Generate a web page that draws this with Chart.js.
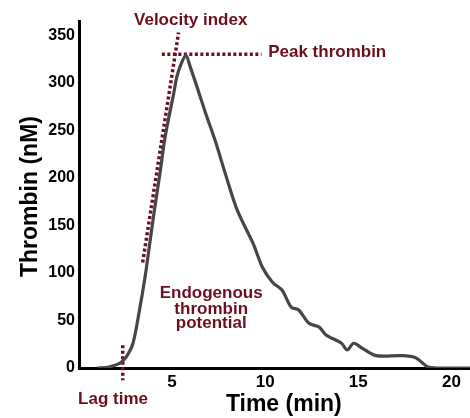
<!DOCTYPE html>
<html>
<head>
<meta charset="utf-8">
<script src="https://cdn.jsdelivr.net/npm/chart.js@4"></script>
<style>
  html, body { margin: 0; padding: 0; background: #fff; }
  #wrap { width: 470px; height: 418px; }
</style>
</head>
<body>
<div id="wrap"><canvas id="tg"></canvas></div>
<script>
// ── Thrombin generation curve ──
// Time (min) vs thrombin (nM), with the usual TG parameters marked.

const TIME     = [1.0, 1.6, 2.2, 2.55, 2.9, 3.25, 3.55, 3.8, 4.05, 4.35, 4.6, 4.85, 5.07, 5.25, 5.47, 5.74,
                  5.97, 6.4, 6.8, 7.3, 7.85, 8.5, 9.35, 9.85, 10.4, 10.9, 11.4, 11.8, 12.35, 12.9, 13.25,
                  14.1, 14.4, 14.75, 15.2, 15.95, 17.3, 18.05, 18.75, 19.3, 21];
const THROMBIN = [0, 1, 5, 12, 26, 61, 96, 131, 166, 205, 240, 266, 287, 306, 319, 329,
                  317, 292, 268, 240, 205, 166, 131, 106, 90, 82, 64, 61, 47, 43, 35,
                  26, 19, 26, 21, 13, 13, 11, 1, 0, 0];

// Marker lines (time, thrombin)
const VELOCITY_LINE = [[3.42, 111], [5.35, 353]];
const PEAK_LINE     = [[4.45, 330], [9.8, 330]];
const LAG_LINE      = [[2.35, 24], [2.35, -13]];

const X_TICKS = [5, 10, 15, 20];
const Y_TICKS = [0, 50, 100, 150, 200, 250, 300, 350];

const MAROON = '#6b0f1f';
const FONT   = '"Liberation Sans", Arial, sans-serif';

const toPts = arr => arr.map(([x, y]) => ({ x, y }));

const markerSet = (pts) => ({
  data: toPts(pts),
  borderColor: MAROON,
  borderWidth: 3.5,
  borderDash: [3, 2.5],
  borderCapStyle: 'butt',
  pointRadius: 0,
  fill: false,
  clip: false
});

// Annotation labels, placed in data coordinates
const LABELS = [
  { text: 'Velocity index', x: 6.0,  y: 366, align: 'center' },
  { text: 'Peak thrombin',  x: 10.16, y: 332, align: 'left' },
  { text: 'Endogenous',     x: 7.1,  y: 79,  align: 'center' },
  { text: 'thrombin',       x: 7.1,  y: 62,  align: 'center' },
  { text: 'potential',      x: 7.1,  y: 47,  align: 'center' },
  { text: 'Lag time',       x: 1.83, y: -33, align: 'center' }
];

const textPlugin = {
  id: 'tgText',
  afterDraw(chart) {
    const { ctx, scales: { x, y }, chartArea } = chart;
    ctx.save();
    ctx.textBaseline = 'middle';
    ctx.fillStyle = MAROON;
    ctx.font = 'bold 17px ' + FONT;
    LABELS.forEach(l => {
      ctx.textAlign = l.align;
      ctx.fillText(l.text, x.getPixelForValue(l.x), y.getPixelForValue(l.y));
    });

    // axis titles
    ctx.fillStyle = '#000';
    ctx.font = 'bold 23px ' + FONT;
    ctx.textAlign = 'center';
    ctx.fillText('Time (min)', x.getPixelForValue(11), chartArea.bottom + 37);
    ctx.translate(chartArea.left - 48, (chartArea.top + chartArea.bottom) / 2 + 2);
    ctx.rotate(-Math.PI / 2);
    ctx.fillText('Thrombin (nM)', 0, 0);
    ctx.restore();
  }
};

new Chart(document.getElementById('tg'), {
  type: 'line',
  data: {
    datasets: [
      {
        data: TIME.map((t, i) => ({ x: t, y: THROMBIN[i] })),
        borderColor: '#464646',
        borderWidth: 3.2,
        pointRadius: 0,
        tension: 0.3,
        fill: false
      },
      markerSet(VELOCITY_LINE),
      markerSet(PEAK_LINE),
      markerSet(LAG_LINE)
    ]
  },
  options: {
    responsive: true,
    maintainAspectRatio: false,
    animation: false,
    layout: { padding: { top: 21, right: 0, bottom: 0, left: 0 } },
    plugins: { legend: { display: false }, tooltip: { enabled: false } },
    scales: {
      x: {
        type: 'linear',
        min: 0,
        max: 21,
        afterFit: s => { s.height = 50; },
        afterBuildTicks: s => { s.ticks = X_TICKS.map(v => ({ value: v })); },
        grid: { display: false, drawTicks: false },
        border: { display: true, color: '#000', width: 3 },
        ticks: { color: '#000', padding: 4, maxRotation: 0, font: { family: FONT, size: 17, weight: 'bold' } }
      },
      y: {
        min: 0,
        max: 365,
        afterFit: s => { s.width = 79; },
        afterBuildTicks: s => { s.ticks = Y_TICKS.map(v => ({ value: v })); },
        grid: { display: false, drawTicks: false },
        border: { display: true, color: '#000', width: 3 },
        ticks: { color: '#000', padding: 4, font: { family: FONT, size: 16, weight: 'bold' } }
      }
    }
  },
  plugins: [textPlugin]
});
</script>
</body>
</html>
